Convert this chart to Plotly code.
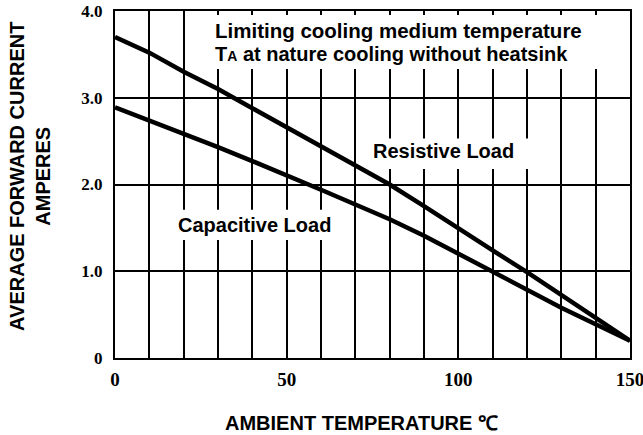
import plotly.graph_objects as go

# ---- data ----
temperature_c = [0, 10, 20, 30, 40, 50, 60, 70, 80, 90, 100, 110, 120, 130, 140, 150]
resistive_a = [3.70, 3.52, 3.30, 3.10, 2.88, 2.66, 2.45, 2.23, 2.00, 1.75, 1.49, 1.24, 0.99, 0.73, 0.47, 0.20]
capacitive_a = [2.89, 2.74, 2.59, 2.43, 2.27, 2.11, 1.94, 1.77, 1.60, 1.41, 1.20, 0.99, 0.78, 0.58, 0.39, 0.20]

x_grid_vals = [0, 10, 20, 30, 40, 50, 60, 70, 80, 90, 100, 110, 120, 130, 140, 150]
x_label_vals = [0, 50, 100, 150]
y_tick_vals = [0, 1, 2, 3, 4]
y_tick_text = ["0", "1.0", "2.0", "3.0", "4.0"]

SANS = "Liberation Sans, Arial, sans-serif"
SERIF = "Liberation Serif, Times New Roman, serif"

fig = go.Figure()
for vals in (resistive_a, capacitive_a):
    fig.add_trace(go.Scatter(x=temperature_c, y=vals, mode="lines",
                             line=dict(color="black", width=4.5),
                             showlegend=False, hoverinfo="skip"))

x_tick_text = [str(v) if v in x_label_vals else "" for v in x_grid_vals]

fig.update_xaxes(range=[0, 150], tickmode="array", tickvals=x_grid_vals, ticktext=x_tick_text,
                 showgrid=True, gridcolor="black", gridwidth=1.5,
                 showline=True, linecolor="black", linewidth=2, mirror="ticks",
                 ticks="inside", ticklen=4, tickcolor="black", tickwidth=1.5,
                 zeroline=False, ticklabelstandoff=3, automargin=False,
                 ticklabeloverflow="allow",
                 tickfont=dict(family=SERIF, size=19, color="black", weight="bold"))
fig.update_yaxes(range=[0, 4], tickmode="array", tickvals=y_tick_vals, ticktext=y_tick_text,
                 showgrid=True, gridcolor="black", gridwidth=1.5,
                 showline=True, linecolor="black", linewidth=2, mirror=True,
                 ticks="outside", ticklen=7, tickcolor="rgba(0,0,0,0)",
                 zeroline=False, automargin=False,
                 ticklabeloverflow="allow",
                 tickfont=dict(family=SERIF, size=17, color="black", weight="bold"))

# white areas behind the labels (they interrupt the gridlines)
for (x0, x1, y0, y1) in [(25, 145, 3.33, 4.0), (74, 123, 2.18, 2.53), (16, 65, 1.36, 1.71)]:
    fig.add_shape(type="rect", xref="x", yref="y", x0=x0, x1=x1, y0=y0, y1=y1,
                  fillcolor="white", line=dict(width=0), layer="between")

lab_font = dict(family=SANS, size=20, color="black", weight="bold")
fig.add_annotation(x=28.5, y=3.78, xref="x", yref="y", xanchor="left", yanchor="middle",
                   text="Limiting cooling medium temperature", showarrow=False,
                   font=dict(lab_font, size=20.5))
fig.add_annotation(x=28.5, y=3.51, xref="x", yref="y", xanchor="left", yanchor="middle",
                   text="T<span style='font-size:14px'>A</span> at nature cooling without heatsink",
                   showarrow=False, font=lab_font)
fig.add_annotation(x=95.6, y=2.39, xref="x", yref="y", xanchor="center", yanchor="middle",
                   text="Resistive Load", showarrow=False, font=lab_font)
fig.add_annotation(x=40.5, y=1.53, xref="x", yref="y", xanchor="center", yanchor="middle",
                   text="Capacitive Load", showarrow=False, font=lab_font)

# axis titles
fig.add_annotation(x=-0.165, y=0.522, xref="paper", yref="paper", xanchor="center", yanchor="middle",
                   text="AVERAGE FORWARD CURRENT<br>AMPERES", textangle=-90, showarrow=False,
                   font=lab_font)
fig.add_annotation(x=0.478, y=-0.187, xref="paper", yref="paper", xanchor="center", yanchor="middle",
                   text="AMBIENT TEMPERATURE ℃", showarrow=False, font=lab_font)

fig.update_layout(width=643, height=435, margin=dict(l=115, r=13, t=11, b=77),
                  plot_bgcolor="white", paper_bgcolor="white")

# remove the page's default body margin so the figure sits at the window origin
fig.write_html("out.html", config={"displayModeBar": False},
               post_script="document.body.style.margin='0';")
